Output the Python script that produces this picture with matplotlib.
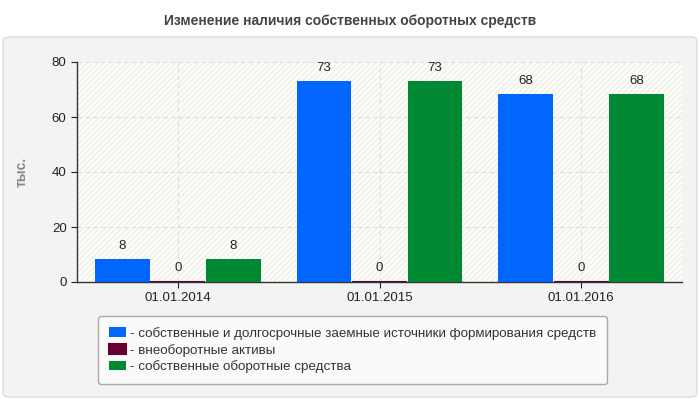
import numpy as np
import matplotlib.pyplot as plt
from matplotlib.patches import FancyBboxPatch, Rectangle

plt.rcParams["font.family"] = ["Liberation Sans", "DejaVu Sans"]

dates = ["01.01.2014", "01.01.2015", "01.01.2016"]
series_names = ["собственные и долгосрочные заемные источники формирования средств",
                "внеоборотные активы",
                "собственные оборотные средства"]
own_long = [8.4, 73.2, 68.4]
noncurrent = [0, 0, 0]
working = [8.4, 73.2, 68.4]
labels = [["8", "73", "68"], ["0", "0", "0"], ["8", "73", "68"]]
colors = ["#0066ff", "#660033", "#008833"]

fig = plt.figure(figsize=(7, 4), dpi=100)
fig.patch.set_facecolor("white")
fig.add_artist(FancyBboxPatch((3 / 700, 3 / 400), 694 / 700, 360 / 400,
                              boxstyle="round,pad=0,rounding_size=0.01",
                              transform=fig.transFigure, facecolor="#f3f3f3",
                              edgecolor="#dddddd", lw=1, zorder=-5))
fig.text(0.5, 0.948, "Изменение наличия собственных оборотных средств", ha="center",
         va="center", fontsize=10, fontweight="bold", color="#444444")

ax = fig.add_axes([77 / 700, 118 / 400, 605 / 700, 220 / 400])
ax.set_facecolor("#fdfdf9")
ax.add_patch(Rectangle((0, 0), 1, 1, transform=ax.transAxes, facecolor="none",
                       edgecolor="#efefe8", hatch="//////", lw=0, zorder=0))

x = np.arange(len(dates))
w = 0.275
for i, vals in enumerate([own_long, noncurrent, working]):
    pos = x + (i - 1) * w
    ax.bar(pos, vals, width=w * 0.99, color=colors[i], edgecolor=colors[i],
           lw=1.5 if i == 1 else 0, zorder=3, label=series_names[i])
    for p, v, t in zip(pos, vals, labels[i]):
        ax.annotate(t, (p, v), xytext=(0, 6 if v == 0 else 5), textcoords="offset points",
                    ha="center", va="bottom", fontsize=9.5, color="#222222", zorder=4)

ax.set_xlim(-0.5, 2.5)
ax.set_ylim(0, 80)
ax.set_yticks([0, 20, 40, 60, 80])
ax.set_xticks(x)
ax.set_xticklabels(dates)
ax.tick_params(labelsize=9.5, colors="#222222", length=4, width=0.8)
ax.grid(True, color="#dddddd", ls=(0, (4, 3)), lw=0.8, zorder=1)
for s in ("top", "right"):
    ax.spines[s].set_visible(False)
for s in ("left", "bottom"):
    ax.spines[s].set_color("#333333")
    ax.spines[s].set_linewidth(1)
ax.set_ylabel("тыс.", fontsize=10, fontweight="bold", color="#888888", labelpad=17)

leg = fig.legend(loc="upper left", bbox_to_anchor=(98 / 700, 84 / 400), fontsize=9.6,
                 frameon=True, fancybox=True, handlelength=1.3, handleheight=0.7,
                 handletextpad=0.3, labelspacing=0.3, borderpad=0.8, borderaxespad=0,
                 labelcolor="#333333")
leg.get_frame().set_facecolor("#fafafa")
leg.get_frame().set_edgecolor("#aaaaaa")
leg.get_frame().set_alpha(1)
for t in leg.get_texts():
    t.set_text("- " + t.get_text())

fig.savefig("out.png", dpi=100)
